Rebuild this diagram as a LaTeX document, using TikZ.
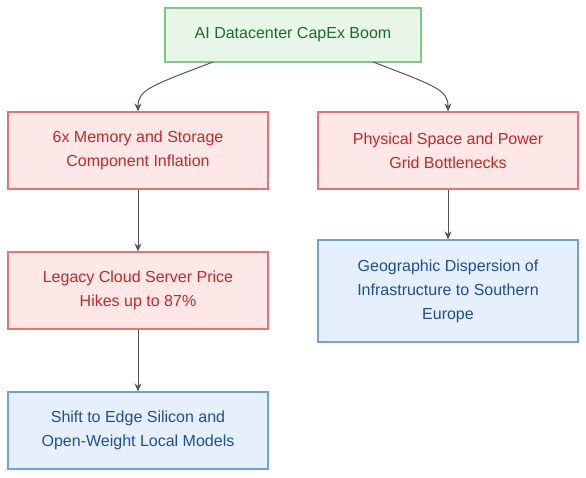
\documentclass[tikz,border=0pt]{standalone}
\usepackage{fontspec}
\setmainfont{Liberation Sans}
\usetikzlibrary{arrows.meta}
\definecolor{gfill}{HTML}{E8F5E9}
\definecolor{gdraw}{HTML}{81C784}
\definecolor{gtext}{HTML}{1B6E2A}
\definecolor{rfill}{HTML}{FDE7E7}
\definecolor{rdraw}{HTML}{E57373}
\definecolor{rtext}{HTML}{C62828}
\definecolor{bfill}{HTML}{E6F0FC}
\definecolor{bdraw}{HTML}{6FA2DC}
\definecolor{btext}{HTML}{1F4E9E}
\definecolor{lcol}{HTML}{555555}
\tikzset{
  box/.style={draw, line width=1.2pt, minimum width=260pt, minimum height=77pt, align=center, inner sep=0pt,
    font=\fontsize{16}{24}\selectfont},
  gbox/.style={box, fill=gfill, draw=gdraw, text=gtext, minimum width=256pt, minimum height=54pt},
  rbox/.style={box, fill=rfill, draw=rdraw, text=rtext},
  bbox/.style={box, fill=bfill, draw=bdraw, text=btext},
  conn/.style={draw=lcol, line width=1pt, -{Stealth[length=8pt,width=7pt]}},
}
\begin{document}
\begin{tikzpicture}[x=1pt,y=-1pt]
\useasboundingbox (0,0) rectangle (586,478);
\node[gbox] (top) at (293,35) {AI Datacenter CapEx Boom};
\node[rbox] (mem) at (138,150.5) {6x Memory and Storage\\Component Inflation};
\node[rbox] (phys) at (448,150.5) {Physical Space and Power\\Grid Bottlenecks};
\node[rbox] (legacy) at (138,290.5) {Legacy Cloud Server Price\\Hikes up to 87\%};
\node[bbox, minimum height=102pt] (geo) at (448,291) {Geographic Dispersion of\\Infrastructure to Southern\\Europe};
\node[bbox] (edge) at (138,430.5) {Shift to Edge Silicon and\\Open-Weight Local Models};
\coordinate (t1) at (213,62);
\coordinate (t2) at (373,62);
\draw[conn] (t1) .. controls (150,86) and (138,90) .. (mem.north);
\draw[conn] (t2) .. controls (436,86) and (448,90) .. (phys.north);
\draw[conn] (mem) -- (legacy);
\draw[conn] (legacy) -- (edge);
\draw[conn] (phys) -- (geo);
\end{tikzpicture}
\end{document}
